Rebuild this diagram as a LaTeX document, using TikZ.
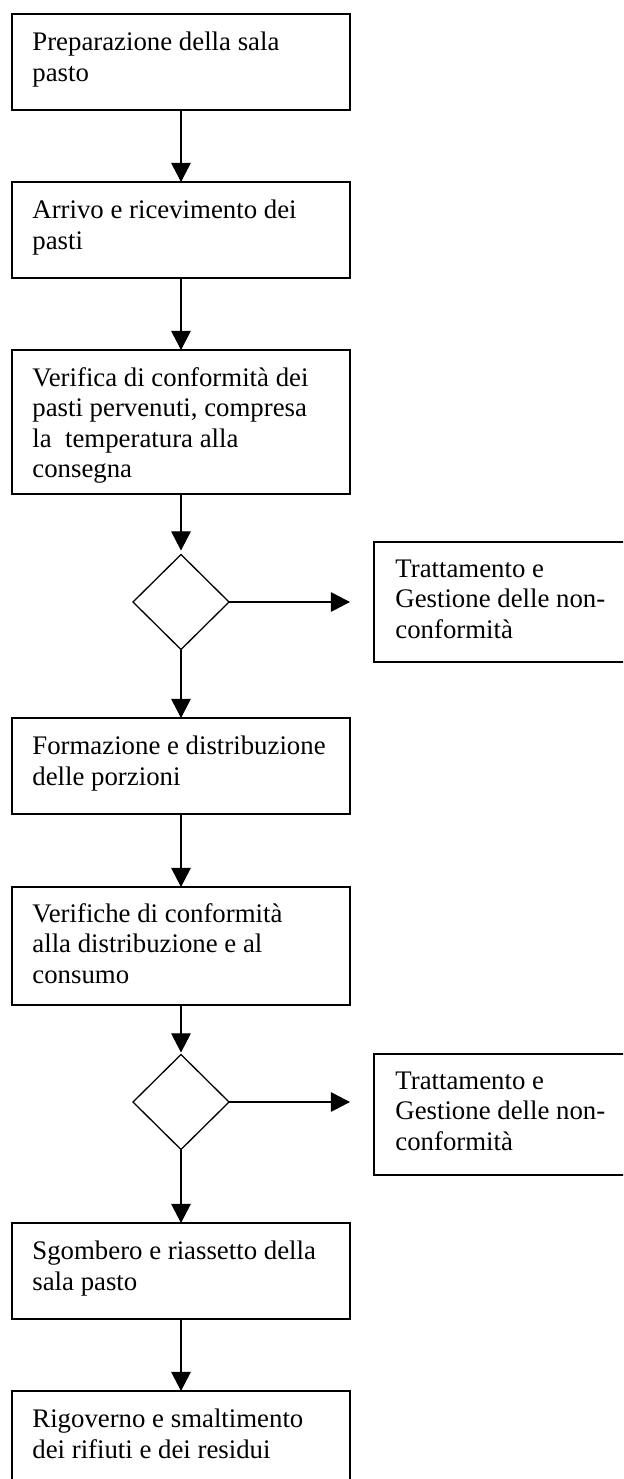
\documentclass[tikz,border=0pt]{standalone}
\usepackage{fontspec}
\setmainfont{Liberation Serif}
\usetikzlibrary{arrows.meta,shapes.geometric}
\tikzset{
  boxst/.style={draw=black, line width=0.9pt, rectangle, inner sep=0pt, outer sep=0pt, anchor=north west, minimum width=169pt},
  dia/.style={draw=black, line width=0.65pt, diamond, inner sep=0pt, outer sep=0pt, minimum width=48pt, minimum height=47.5pt},
  txt/.style={anchor=base west, inner sep=0pt, font=\fontsize{13.4pt}{15.3pt}\selectfont},
  arr/.style={line width=0.65pt, -{Triangle[width=9.8pt,length=9.6pt]}},
}
\newcommand{\boxtext}[1]{\parbox[t]{170pt}{\raggedright #1}}
\begin{document}
\begin{tikzpicture}[x=0.5pt,y=-0.5pt]
\clip (0,0) rectangle (623,1479);
\fill[white] (0,0) rectangle (623,1479);
% boxes
\node[boxst, minimum height=48pt] (b1) at (12,14) {};
\node[boxst, minimum height=48pt] (b2) at (12,182) {};
\node[boxst, minimum height=72pt] (b3) at (12,350) {};
\node[dia] (d1) at (181,602) {};
\node[boxst, minimum width=170pt, minimum height=60pt] (r1) at (374,542) {};
\node[boxst, minimum height=48pt] (b4) at (12,718) {};
\node[boxst, minimum height=59pt] (b5) at (12,887) {};
\node[dia] (d2) at (181,1102) {};
\node[boxst, minimum width=170pt, minimum height=60.5pt] (r2) at (374,1054) {};
\node[boxst, minimum height=48pt] (b6) at (12,1223) {};
\node[boxst, minimum height=60pt] (b7) at (12,1391) {};
% texts
\node[txt] (t1) at (32,50.5) {\boxtext{Preparazione della sala\\pasto}};
\node[txt] (t2) at (32,218.5) {\boxtext{Arrivo e ricevimento dei\\pasti}};
\node[txt] (t3) at (32,386) {\boxtext{Verifica di conformità dei\\pasti pervenuti, compresa\\la\ \ temperatura alla\\consegna}};
\node[txt] (tr1) at (395,577) {\boxtext{Trattamento e\\Gestione delle non-\\conformità}};
\node[txt] (t4) at (32,754.5) {\boxtext{Formazione e distribuzione\\delle porzioni}};
\node[txt] (t5) at (32,922) {\boxtext{Verifiche di conformità\\alla distribuzione e al\\consumo}};
\node[txt] (tr2) at (395,1089) {\boxtext{Trattamento e\\Gestione delle non-\\conformità}};
\node[txt] (t6) at (32,1259.5) {\boxtext{Sgombero e riassetto della\\sala pasto}};
\node[txt] (t7) at (32,1427.5) {\boxtext{Rigoverno e smaltimento\\dei rifiuti e dei residui}};
% connector ends
\coordinate (e1) at (350,602);
\coordinate (e2) at (350,1102);
% arrows
\draw[arr] (b1.south) -- (b2.north);
\draw[arr] (b2.south) -- (b3.north);
\draw[arr, shorten >=2pt] (b3.south) -- (d1.north);
\draw[arr] (d1.east) -- (e1);
\draw[arr] (d1.south) -- (b4.north);
\draw[arr] (b4.south) -- (b5.north);
\draw[arr, shorten >=1pt] (b5.south) -- (d2.north);
\draw[arr] (d2.east) -- (e2);
\draw[arr] (d2.south) -- (b6.north);
\draw[arr] (b6.south) -- (b7.north);
\end{tikzpicture}
\end{document}
